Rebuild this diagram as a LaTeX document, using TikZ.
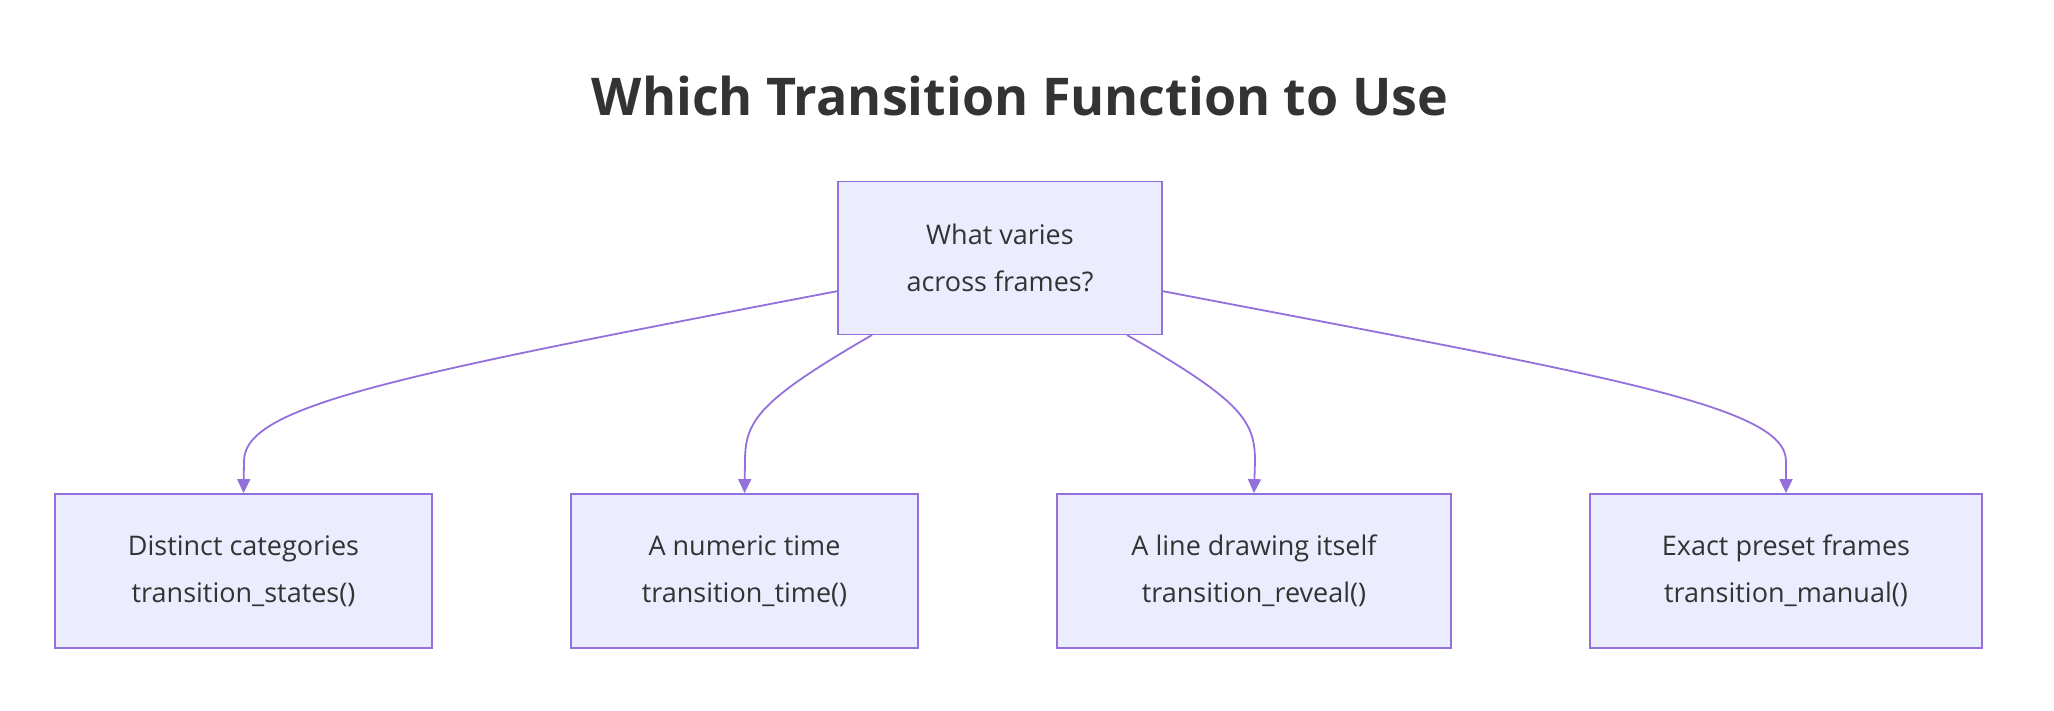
\documentclass[tikz,border=0pt]{standalone}
\usepackage{fontspec}
\setmainfont{Open Sans}
\usetikzlibrary{arrows.meta}
\definecolor{bfill}{HTML}{ECECFF}
\definecolor{bline}{HTML}{9370DB}
\definecolor{txt}{HTML}{333333}
\begin{document}
\begin{tikzpicture}[x=1pt,y=-1pt,
  box/.style={draw=bline,fill=bfill,line width=1.8pt,text=txt,align=center,font=\fontsize{27}{47}\selectfont,inner sep=0pt},
  edge/.style={draw=bline,line width=1.8pt,-{Triangle[length=14pt,width=13pt]}}]
\useasboundingbox (0,0) rectangle (2054,710);
\node[text=txt,font=\fontsize{52}{60}\selectfont\bfseries] (title) at (1020,96) {Which Transition Function to Use};
\node[box,minimum width=324pt,minimum height=153pt] (q) at (1000,258) {What varies\\across frames?};
\node[box,minimum width=377pt,minimum height=154pt] (a) at (243.5,571) {Distinct categories\\transition\_states()};
\node[box,minimum width=347pt,minimum height=154pt] (b) at (744.5,571) {A numeric time\\transition\_time()};
\node[box,minimum width=394pt,minimum height=154pt] (c) at (1254,571) {A line drawing itself\\transition\_reveal()};
\node[box,minimum width=392pt,minimum height=154pt] (d) at (1786,571) {Exact preset frames\\transition\_manual()};
\coordinate (s1) at (838,291);
\coordinate (s2) at (872,335);
\coordinate (s3) at (1127,335);
\coordinate (s4) at (1162,291);
\draw[edge] (s1) .. controls (400,375) and (244,405) .. (244,461) -- (a.north);
\draw[edge] (s2) .. controls (760,400) and (745,420) .. (745,461) -- (b.north);
\draw[edge] (s3) .. controls (1240,400) and (1255,420) .. (1255,461) -- (c.north);
\draw[edge] (s4) .. controls (1600,375) and (1786,405) .. (1786,461) -- (d.north);
\end{tikzpicture}
\end{document}
